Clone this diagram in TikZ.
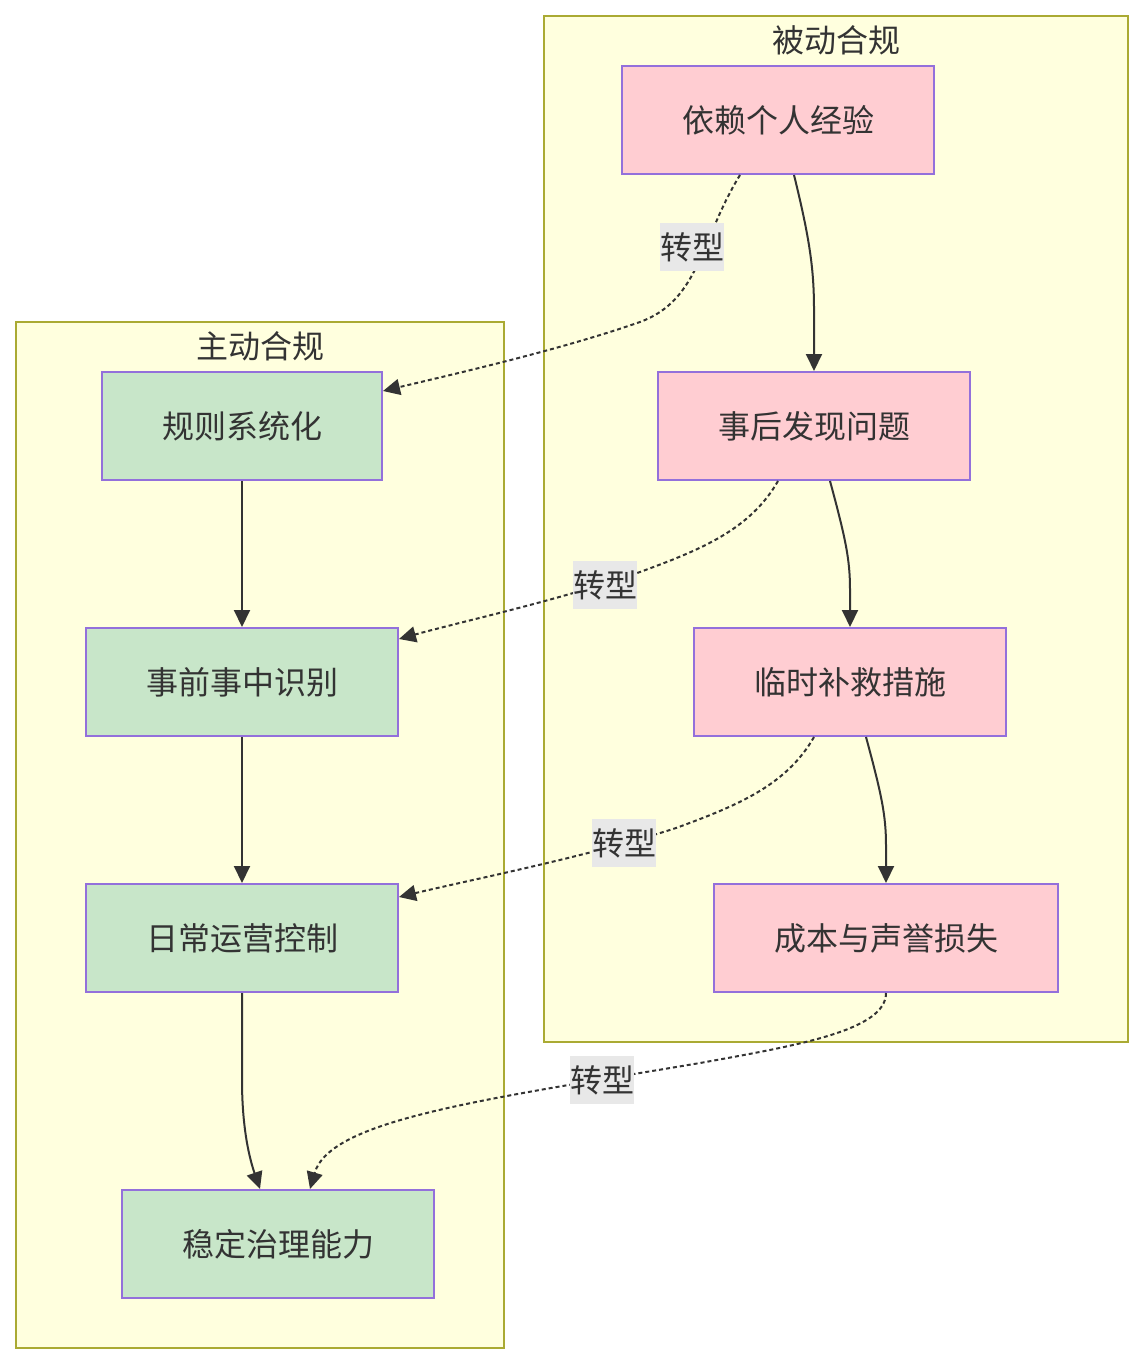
\documentclass[tikz,border=0pt]{standalone}
\usepackage{fontspec}
\setmainfont{Noto Sans CJK SC}
\usepackage{xcolor}
\usetikzlibrary{arrows.meta}
\definecolor{zonefill}{HTML}{FFFFDE}
\definecolor{zoneline}{HTML}{AAAA33}
\definecolor{badfill}{HTML}{FFCDD2}
\definecolor{goodfill}{HTML}{C8E6C9}
\definecolor{boxline}{HTML}{9370DB}
\definecolor{ink}{HTML}{333333}
\definecolor{tagfill}{HTML}{E8E8E8}
\newcommand{\FN}{\fontsize{32}{38}\selectfont}

\begin{document}
\begin{tikzpicture}[x=1pt,y=-1pt]
\tikzstyle{zone}=[draw=zoneline,fill=zonefill,line width=2pt]
\tikzstyle{texto}=[draw=none,fill=none,ink,font=\FN,inner sep=0pt]
\tikzstyle{box}=[texto,draw=boxline,line width=2pt,minimum width=312pt,minimum height=108pt]
\tikzstyle{bad}=[box,fill=badfill]
\tikzstyle{good}=[box,fill=goodfill]
\tikzstyle{tag}=[texto,fill=tagfill,minimum height=48pt]
\tikzstyle{flow}=[ink,line width=2pt,-{Triangle[length=17pt,width=16pt]}]
\tikzstyle{trans}=[flow,dash pattern=on 4pt off 3pt]

\useasboundingbox (0,0) rectangle (1144,1364);

\draw[zone] (544,16) rectangle (1128,1042);
\draw[zone] (16,322) rectangle (504,1348);
\node[texto] (beidong) at (836,40)  {被动合规};
\node[texto] (zhudong) at (260,346) {主动合规};

\node[bad] (yilai)    at (778,120) {依赖个人经验};
\node[bad] (shihou)   at (814,426) {事后发现问题};
\node[bad] (linshi)   at (850,682) {临时补救措施};
\node[bad,minimum width=344pt] (chengben) at (886,938) {成本与声誉损失};

\node[good,minimum width=280pt] (guize) at (242,426) {规则系统化};
\node[good] (shiqian) at (242,682)  {事前事中识别};
\node[good] (richang) at (242,938)  {日常运营控制};
\node[good] (wending) at (278,1244) {稳定治理能力};

\draw[flow] ([xshift=16pt]yilai.south) .. controls (810,240) and (814,270) .. (814,310) -- (shihou.north);
\draw[flow] ([xshift=16pt]shihou.south) .. controls (846,540) and (850,560) .. (850,590) -- (linshi.north);
\draw[flow] ([xshift=16pt]linshi.south) .. controls (882,796) and (886,816) .. (886,846) -- (chengben.north);

\draw[flow] (guize.south) -- (shiqian.north);
\draw[flow] (shiqian.south) -- (richang.north);
\draw[flow] (richang.south) -- (242,1080) .. controls (242,1130) and (250,1160) .. ([xshift=-18pt]wending.north);

\draw[trans] ([xshift=-38pt]yilai.south) .. controls (700,240) and (700,300) .. (640,322) .. controls (560,350) and (450,375) .. ([yshift=-20pt]guize.north east);
\draw[trans] ([xshift=-36pt]shihou.south) .. controls (750,530) and (700,550) .. (640,572) .. controls (560,600) and (460,622) .. ([yshift=-12pt]shiqian.north east);
\draw[trans] ([xshift=-36pt]linshi.south) .. controls (786,786) and (736,806) .. (676,828) .. controls (590,856) and (470,880) .. ([yshift=-14pt]richang.north east);
\draw[trans] (chengben.south) .. controls (886,1030) and (800,1045) .. (700,1063) .. controls (480,1100) and (330,1120) .. ([xshift=32pt]wending.north);

\node[tag] (zx1) at (692,247)  {转型};
\node[tag] (zx2) at (605,585)  {转型};
\node[tag] (zx3) at (624,843)  {转型};
\node[tag] (zx4) at (602,1080) {转型};
\end{tikzpicture}
\end{document}
